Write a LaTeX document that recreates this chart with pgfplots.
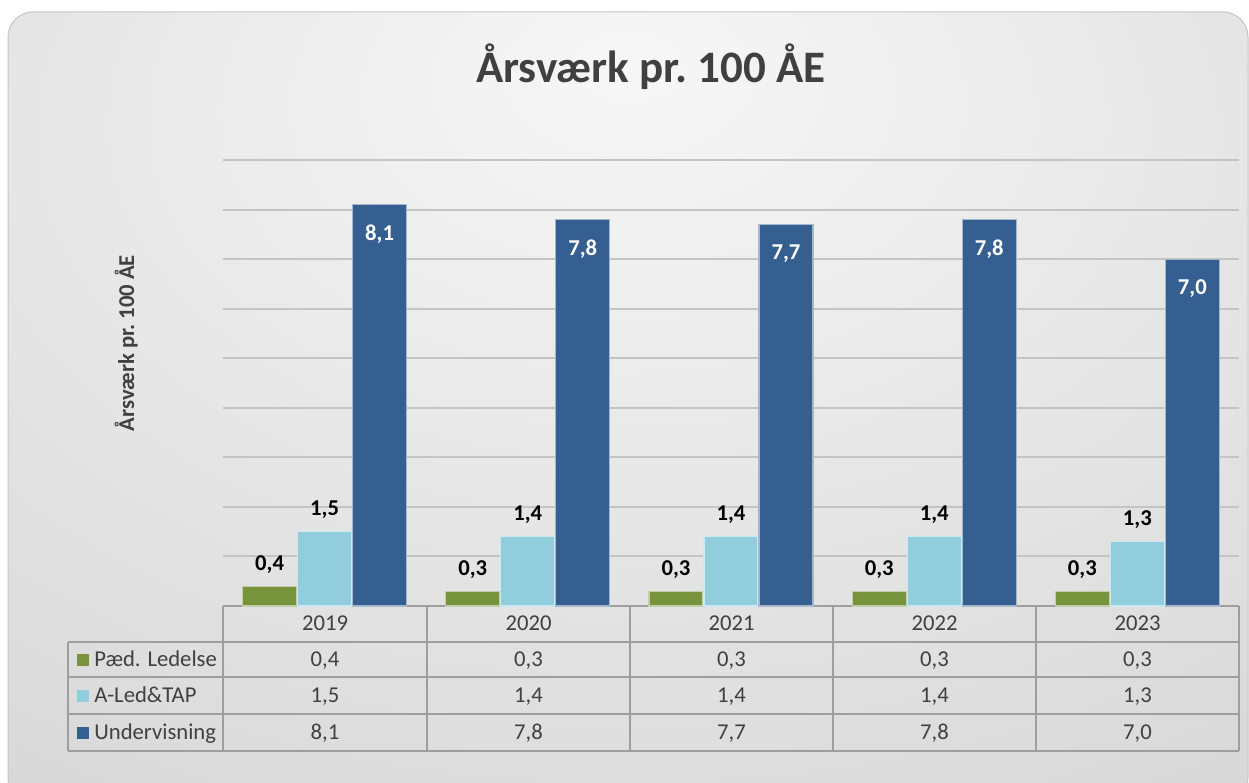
\documentclass[border=0pt]{standalone}
\usepackage{pgfplots}
\usepackage{pgfplotstable}
\pgfplotsset{compat=1.18}
\usepackage{fontspec}
\setmainfont{Carlito}
\definecolor{cgreen}{RGB}{119,147,60}
\definecolor{clblue}{RGB}{146,205,222}
\definecolor{cdblue}{RGB}{53,94,145}
\definecolor{ctext}{RGB}{64,64,64}
\definecolor{cgrid}{RGB}{196,196,196}
\definecolor{cline}{RGB}{158,158,158}
\definecolor{bgin}{RGB}{247,247,247}
\definecolor{bgout}{RGB}{204,204,204}
\pgfdeclareradialshading{chartbg}{\pgfpoint{0bp}{22bp}}{color(0bp)=(bgin); color(62bp)=(bgout); color(110bp)=(bgout)}

\pgfplotstableread{
x ped aled und
0 0.4 1.5 8.1
1 0.3 1.4 7.8
2 0.3 1.4 7.7
3 0.3 1.4 7.8
4 0.3 1.3 7.0
}\datatable

\newcommand{\txt}{\fontsize{13.6}{16}\selectfont}

\begin{document}
\begin{tikzpicture}
\useasboundingbox (0pt,0pt) rectangle (749.4pt,469.8pt);
\fill[white] (0pt,0pt) rectangle (749.4pt,469.8pt);
\shade[shading=chartbg, rounded corners=15pt] (4.8pt,-12pt) rectangle (748.8pt,462.6pt);
\draw[gray!45, line width=0.6pt, rounded corners=15pt] (4.8pt,-12pt) rectangle (748.8pt,462.6pt);

\begin{scope}[x=0.6pt, y=-0.6pt, shift={(0pt,469.8pt)}]
  % title
  \node[anchor=base, text=ctext, font=\fontsize{27}{32}\selectfont\bfseries] at (651,83) {Årsværk pr.\ 100 ÅE};
  % y label
  \node[anchor=base, rotate=90, text=ctext, font=\txt\bfseries] at (134,343) {Årsværk pr.\ 100 ÅE};
  % data table lines
  \draw[cline, line width=1.2pt] (223,606) -- (1239,606);
  \foreach \yy in {642,677,714,751} \draw[cline, line width=1.2pt] (68,\yy) -- (1239,\yy);
  \draw[cline, line width=1.2pt] (68,642) -- (68,751);
  \foreach \xx in {223,427,630,833,1036,1239} \draw[cline, line width=1.2pt] (\xx,606) -- (\xx,751);
  % header
  \foreach \xx/\lab in {325/2019,528.5/2020,731.5/2021,934.5/2022,1137.5/2023}
    \node[anchor=base, text=ctext, font=\txt, inner sep=0pt] at (\xx,631) {\lab};
  % rows
  \foreach \xx/\a/\b/\c in {325/{0,4}/{1,5}/{8,1},528.5/{0,3}/{1,4}/{7,8},731.5/{0,3}/{1,4}/{7,7},934.5/{0,3}/{1,4}/{7,8},1137.5/{0,3}/{1,3}/{7,0}}{
    \node[anchor=base, text=ctext, font=\txt, inner sep=0pt] at (\xx,667) {\a};
    \node[anchor=base, text=ctext, font=\txt, inner sep=0pt] at (\xx,703) {\b};
    \node[anchor=base, text=ctext, font=\txt, inner sep=0pt] at (\xx,740) {\c};
  }
  % legend keys and labels
  \fill[cgreen] (77,654) rectangle (89,666);
  \fill[clblue] (77,690) rectangle (89,702);
  \fill[cdblue] (77,727) rectangle (89,739);
  \node[anchor=base west, text=ctext, font=\txt, inner sep=0pt] at (94,667) {Pæd. Ledelse};
  \node[anchor=base west, text=ctext, font=\txt, inner sep=0pt] at (94,703) {A-Led\&TAP};
  \node[anchor=base west, text=ctext, font=\txt, inner sep=0pt] at (94,740) {Undervisning};
\end{scope}

\begin{axis}[
  at={(133.8pt,106.2pt)}, anchor=south west,
  width=609.6pt, height=267.6pt, scale only axis,
  xmin=-0.5, xmax=4.5, ymin=0, ymax=9,
  ytick={1,2,3,4,5,6,7,8,9}, yticklabels={}, xtick=\empty,
  ymajorgrids, major grid style={cgrid, line width=1.2pt},
  axis line style={draw=none}, tick style={draw=none},
  ybar=0.6pt, bar width=32.4pt,
  clip=false,
  nodes near coords,
  /pgf/number format/use comma,
  /pgf/number format/fixed,
  /pgf/number format/fixed zerofill,
  /pgf/number format/precision=1,
  /pgf/number format/assume math mode=true,
  every node near coord/.append style={font=\txt\bfseries, text=black},
]
\addplot[fill=cgreen, draw=white!55!cgreen, line width=0.7pt,
  every node near coord/.append style={anchor=south, yshift=4pt}]
  table[x=x, y=ped] {\datatable};
\addplot[fill=clblue, draw=white!55!clblue, line width=0.7pt,
  every node near coord/.append style={anchor=south, yshift=4pt}]
  table[x=x, y=aled] {\datatable};
\addplot[fill=cdblue, draw=white!55!cdblue, line width=0.7pt,
  every node near coord/.append style={anchor=north, yshift=-8.5pt, text=white}]
  table[x=x, y=und] {\datatable};
\end{axis}
\end{tikzpicture}
\end{document}
